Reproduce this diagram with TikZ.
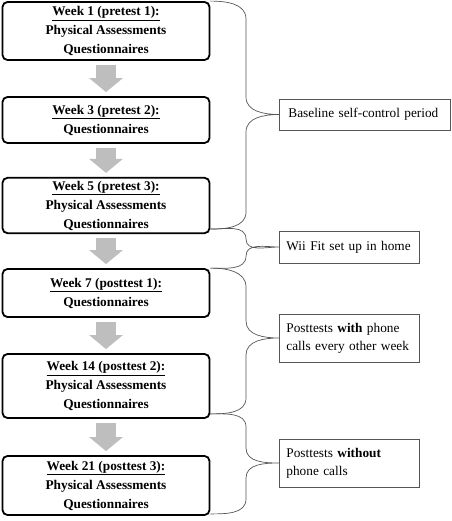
\documentclass[tikz,border=0pt]{standalone}
\usepackage{fontspec}
\setmainfont{Liberation Serif}
\usepackage{xcolor}
\usetikzlibrary{arrows.meta}
\definecolor{arrowgray}{RGB}{190,190,190}
\definecolor{framegray}{RGB}{85,85,85}

\begin{document}
\begin{tikzpicture}[x=1pt,y=1pt,
    weekbox/.style={draw,line width=1.8pt,rounded corners=5pt,minimum width=207pt,
        align=center,inner sep=3pt,font=\fontsize{13.3}{19}\selectfont\bfseries},
    periodbox/.style={draw=framegray,line width=0.8pt,anchor=west,align=left,
        inner xsep=7pt,text width=126pt,font=\fontsize{13.3}{18}\selectfont},
    flowarrow/.style={draw=arrowgray,line width=20pt,shorten <=4pt,shorten >=4pt,
        -{Triangle[width=33pt,length=14pt]}},
    period/.style={draw=framegray,line width=0.7pt}]
    \useasboundingbox (0,0) rectangle (451,-521);

    \node [weekbox,minimum height=58pt] (b1) at (106,-31)
        {\underline{Week 1 (pretest 1):}\\Physical Assessments\\Questionnaires};
    \node [weekbox,minimum height=46pt] (b2) at (106,-120)
        {\underline{Week 3 (pretest 2):}\\Questionnaires};
    \node [weekbox,minimum height=55pt] (b3) at (106,-205.5)
        {\underline{Week 5 (pretest 3):}\\Physical Assessments\\Questionnaires};
    \node [weekbox,minimum height=48pt] (b4) at (106,-293)
        {\underline{Week 7 (posttest 1):}\\Questionnaires};
    \node [weekbox,minimum height=64pt] (b5) at (106,-386)
        {\underline{Week 14 (posttest 2):}\\Physical Assessments\\Questionnaires};
    \node [weekbox,minimum height=59pt] (b6) at (106,-485.5)
        {\underline{Week 21 (posttest 3):}\\Physical Assessments\\Questionnaires};

    \draw [flowarrow] (b1) -- (b2);
    \draw [flowarrow] (b2) -- (b3);
    \draw [flowarrow] (b3) -- (b4);
    \draw [flowarrow] (b4) -- (b5);
    \draw [flowarrow] (b5) -- (b6);

    \node [periodbox,inner xsep=9pt,text width=153pt,minimum height=31pt] (l1) at (279,-114.5)
        {Baseline self-control period};
    \node [periodbox,minimum height=32pt] (l2) at (279,-247)
        {Wii Fit set up in home};
    \node [periodbox,minimum height=48pt] (l3) at (279,-338)
        {Posttests \textbf{with} phone\\calls every other week};
    \node [periodbox,minimum height=48pt] (l4) at (279,-463)
        {Posttests \textbf{without}\\phone calls};

    \draw [period] (b1.north east) to[out=0,in=90] (246,-19) -- (246,-97)
        to[out=-90,in=180] (l1.west) to[out=180,in=90] (246,-132) -- (246,-212)
        to[out=-90,in=0] ([yshift=5pt]b3.south east);
    \draw [period] ([yshift=5pt]b3.south east) to[out=0,in=90] (246,-239)
        to[out=-90,in=180] (l2.west) to[out=180,in=90] (246,-256)
        to[out=-90,in=0] (b4.north east);
    \draw [period] (b4.north east) to[out=0,in=90] (246,-287) -- (246,-321)
        to[out=-90,in=180] (l3.west) to[out=180,in=90] (246,-355) -- (246,-398)
        to[out=-90,in=0] ([yshift=5pt]b5.south east);
    \draw [period] ([yshift=5pt]b5.south east) to[out=0,in=90] (246,-427) -- (246,-448)
        to[out=-90,in=180] (l4.west) to[out=180,in=90] (246,-478) -- (246,-499)
        to[out=-90,in=0] ([yshift=2pt]b6.south east);
\end{tikzpicture}
\end{document}
